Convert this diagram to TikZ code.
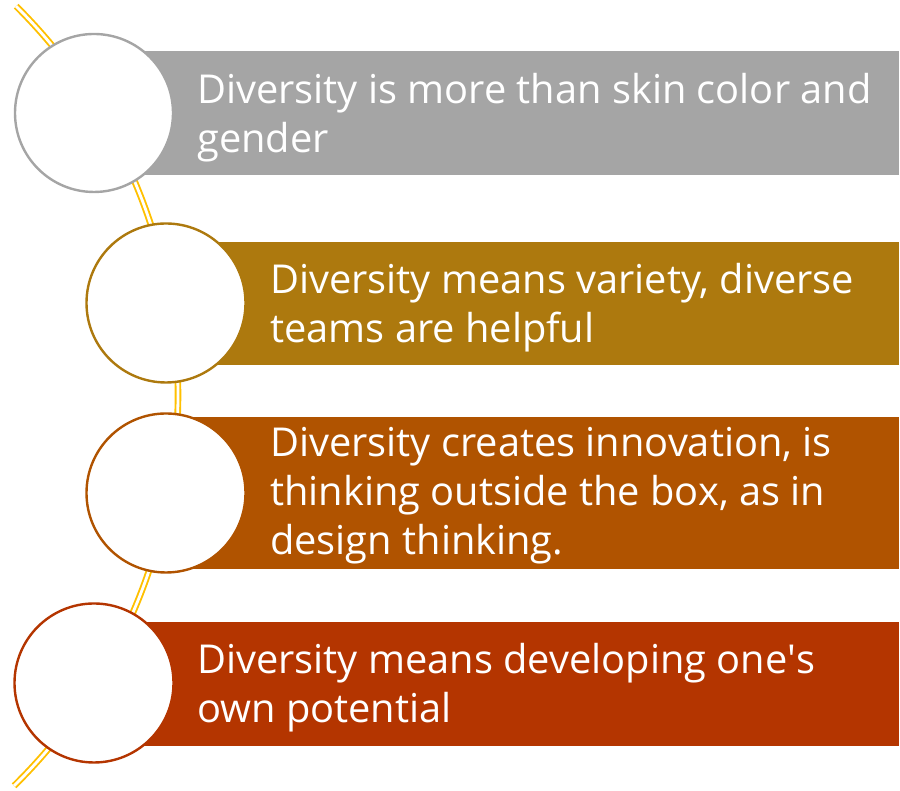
\documentclass[tikz,border=0pt]{standalone}
\usepackage{fontspec}
\setmainfont{Open Sans}
\definecolor{cgray}{HTML}{A5A5A5}
\definecolor{cgold}{HTML}{AD790E}
\definecolor{corange}{HTML}{B05300}
\definecolor{cred}{HTML}{B43500}
\definecolor{cyel}{HTML}{FFC000}
\begin{document}
\begin{tikzpicture}[x=1pt,y=1pt,
  barbox/.style={fill=#1, draw=none},
  ring/.style={circle, draw=#1, line width=2.4pt, fill=white, inner sep=0pt},
  txt/.style={text=white, font=\fontsize{39.8}{49}\selectfont, align=left, anchor=base west, inner sep=0pt},
  rail/.style={draw=cyel, line width=1.9pt, double=white, double distance=2.8pt}]
\useasboundingbox (0,0) rectangle (900,791);
% curved rail
\coordinate (arcc) at (-370,396);
\draw[rail] ([shift={(-45.5:548)}]arcc) arc[start angle=-45.5, end angle=45.2, radius=548];
% bars
\fill[barbox=cgray]   (145,616) rectangle (899,740);
\fill[barbox=cgold]   (166,426) rectangle (899,549);
\fill[barbox=corange] (166,222) rectangle (899,374);
\fill[barbox=cred]    (94,45)   rectangle (899,169);
% circles
\node[ring=cgray,   minimum size=158pt] (c1) at (94,678) {};
\node[ring=cgold,   minimum size=159pt] (c2) at (166,488) {};
\node[ring=corange, minimum size=159pt] (c3) at (166,298) {};
\node[ring=cred,    minimum size=159pt] (c4) at (94,108) {};
% texts (base anchor = baseline of the last line)
\node[txt] (t1) at (197,638) {Diversity is more than skin color and\\gender};
\node[txt] (t2) at (270,448.5) {Diversity means variety, diverse\\teams are helpful};
\node[txt] (t3) at (270,236) {Diversity creates innovation, is\\thinking outside the box, as in\\design thinking.};
\node[txt] (t4) at (197,68) {Diversity means developing one\textquotesingle s\\own potential};
\end{tikzpicture}
\end{document}
